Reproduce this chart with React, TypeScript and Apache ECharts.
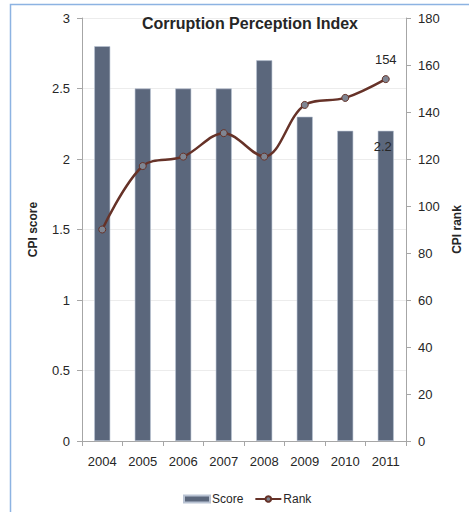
import React, { useEffect, useRef } from "react";
import * as echarts from "echarts";

const years = ["2004", "2005", "2006", "2007", "2008", "2009", "2010", "2011"];
const scores = [2.8, 2.5, 2.5, 2.5, 2.7, 2.3, 2.2, 2.2];
const ranks = [90, 117, 121, 131, 121, 143, 146, 154];

const FONT = "'Liberation Sans', Arial, sans-serif";

export default function App() {
  const ref = useRef<HTMLDivElement>(null);
  useEffect(() => {
    const chart = echarts.init(ref.current!, null, { renderer: "svg" });
    const last = years.length - 1;
    chart.setOption({
      animation: false,
      textStyle: { fontFamily: FONT },
      title: {
        text: "Corruption Perception Index",
        left: 245,
        textAlign: "center",
        top: 10,
        textStyle: { fontFamily: FONT, fontSize: 16, fontWeight: "bold", color: "#262626" },
      },
      graphic: [
        {
          type: "rect",
          shape: { x: 10.5, y: 4.5, width: 480, height: 530 },
          style: { fill: "none", stroke: "#8db3e2", lineWidth: 1.5 },
          silent: true,
        },
      ],
      legend: {
        bottom: 2,
        left: 178,
        itemWidth: 26,
        itemHeight: 7,
        itemGap: 11,
        textStyle: { fontFamily: FONT, fontSize: 12, color: "#262626", padding: [0, 0, 0, -3] },
        data: [
          { name: "Score", icon: "rect" },
          { name: "Rank" },
        ],
      },
      grid: { left: 82, right: 63, top: 18, bottom: 71, outerBoundsMode: "none", containLabel: false },
      xAxis: {
        type: "category",
        data: years,
        axisLine: { lineStyle: { color: "#a6a6a6" } },
        axisTick: { show: true, length: 5, lineStyle: { color: "#a6a6a6" } },
        axisLabel: { fontFamily: FONT, fontSize: 13, color: "#262626", margin: 14 },
      },
      yAxis: [
        {
          type: "value",
          min: 0,
          max: 3,
          interval: 0.5,
          name: "CPI score",
          nameLocation: "middle",
          nameGap: 43,
          nameTextStyle: { fontFamily: FONT, fontSize: 12, fontWeight: "bold", color: "#262626" },
          axisLine: { show: true, lineStyle: { color: "#a6a6a6" } },
          axisTick: { show: true, length: 5, lineStyle: { color: "#a6a6a6" } },
          axisLabel: { fontFamily: FONT, fontSize: 13, color: "#262626", margin: 12 },
          splitLine: { lineStyle: { color: "#ececec" } },
        },
        {
          type: "value",
          min: 0,
          max: 180,
          interval: 20,
          name: "CPI rank",
          nameLocation: "middle",
          nameGap: 45,
          nameRotate: 90,
          nameTextStyle: { fontFamily: FONT, fontSize: 12, fontWeight: "bold", color: "#262626" },
          axisLine: { show: true, lineStyle: { color: "#a6a6a6" } },
          axisTick: { show: true, length: 5, lineStyle: { color: "#a6a6a6" } },
          axisLabel: { fontFamily: FONT, fontSize: 13, color: "#262626", margin: 12 },
          splitLine: { show: false },
        },
      ],
      series: [
        {
          name: "Score",
          type: "bar",
          yAxisIndex: 0,
          barWidth: 16,
          itemStyle: { color: "#5b677c", borderColor: "#b9c3d3", borderWidth: 0.6 },
          data: scores.map((v, i) =>
            i === last
              ? {
                  value: v,
                  label: {
                    show: true,
                    position: "insideTop",
                    distance: 9,
                    offset: [-3, 0],
                    fontFamily: FONT,
                    fontSize: 13,
                    color: "#262626",
                  },
                }
              : v
          ),
        },
        {
          name: "Rank",
          type: "line",
          yAxisIndex: 1,
          smooth: 0.35,
          symbol: "circle",
          symbolSize: 7,
          lineStyle: { color: "#663228", width: 2.5 },
          itemStyle: { color: "#7f8592", borderColor: "#663228", borderWidth: 1 },
          data: ranks.map((v, i) =>
            i === last
              ? {
                  value: v,
                  label: {
                    show: true,
                    position: "top",
                    distance: 9,
                    fontFamily: FONT,
                    fontSize: 13,
                    color: "#262626",
                  },
                }
              : v
          ),
        },
      ],
    });
    return () => chart.dispose();
  }, []);
  return (
    <div
      ref={ref}
      style={{ position: "fixed", left: 0, top: 0, width: 469, height: 512, background: "#fff" }}
    />
  );
}
